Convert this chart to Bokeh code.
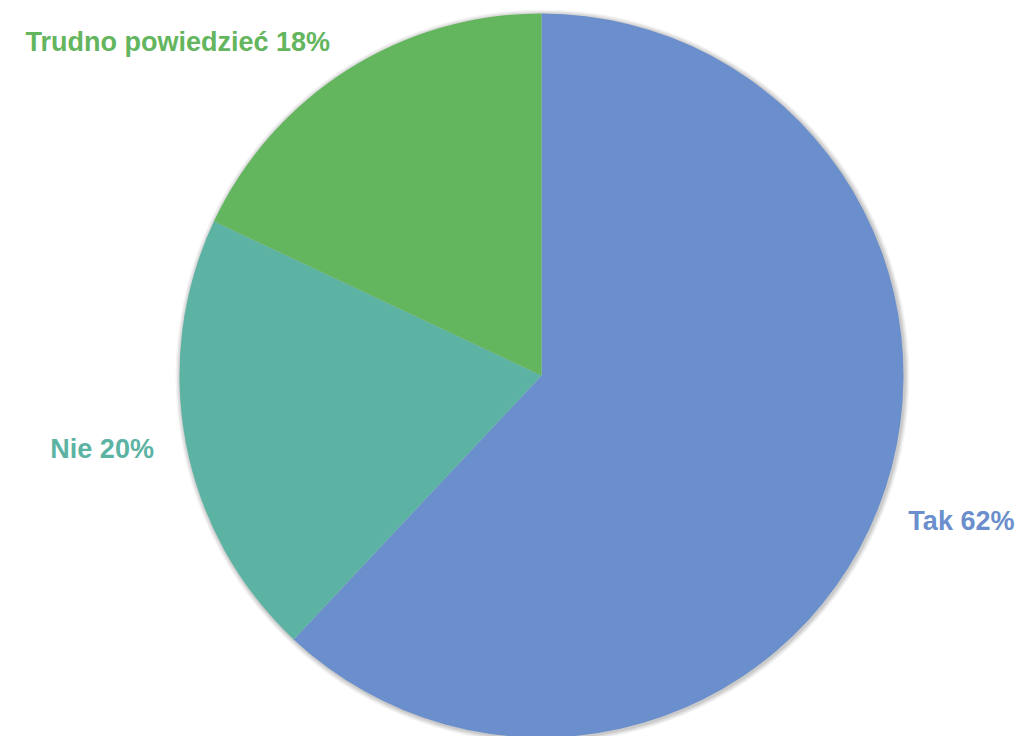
import math
from bokeh.plotting import figure
from bokeh.models import Range1d, ColumnDataSource
from bokeh.core.properties import value
from bokeh.embed import file_html
from bokeh.resources import INLINE

# Data
categories = ["Tak", "Nie", "Trudno powiedzieć"]
values = [62, 20, 18]
colors = ["#6a8fcc", "#5cb3a3", "#63b55e"]

# Layout (screen-pixel coordinates, y pointing up as negative screen y)
W, H = 1020, 736
cx, cy, R = 541, -375, 362

p = figure(width=W, height=H, output_backend="svg", toolbar_location=None,
           x_range=Range1d(0, W), y_range=Range1d(-H, 0),
           min_border=0)
p.axis.visible = False
p.grid.visible = False
p.outline_line_color = None
p.background_fill_color = "white"
p.border_fill_color = "white"

# soft shadow
for i, a in enumerate([0.04, 0.05, 0.06, 0.07]):
    p.circle(x=[cx + 1], y=[cy - 1], radius=R + 5 - 1.2 * i, fill_color="#000000",
             fill_alpha=a, line_color=None)

total = sum(values)
start = math.pi / 2
starts, ends, lx, ly, align = [], [], [], [], []
for v in values:
    sweep = 2 * math.pi * v / total
    end = start - sweep
    starts.append(end)
    ends.append(start)
    mid = (start + end) / 2
    lx.append(cx + 1.09 * R * math.cos(mid))
    ly.append(cy + 1.09 * R * math.sin(mid))
    align.append("left" if math.cos(mid) >= 0 else "right")
    start = end

src = ColumnDataSource(dict(start=starts, end=ends, color=colors,
                            x=lx, y=ly, align=align,
                            label=[f"{c} {v}%" for c, v in zip(categories, values)]))

p.wedge(x=cx, y=cy, radius=R, start_angle="start", end_angle="end",
        fill_color="color", line_color=None, source=src)

p.text(x="x", y="y", text="label", text_color="color", text_align="align",
       text_baseline="middle", text_font=value("Liberation Sans"),
       text_font_style="bold", text_font_size="27px", source=src)

open("out.html", "w").write(file_html(p, INLINE))
